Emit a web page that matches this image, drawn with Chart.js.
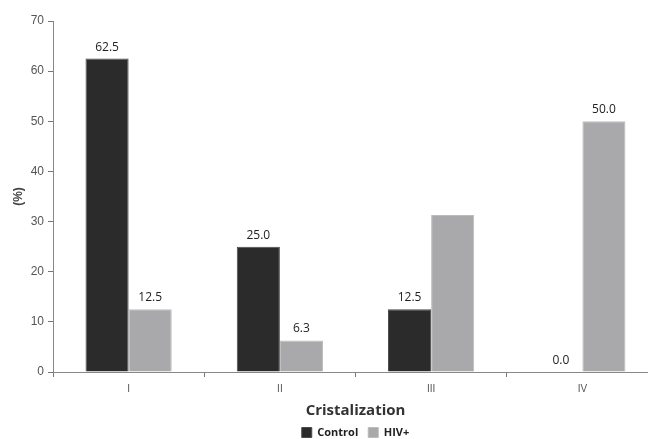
<!DOCTYPE html>
<html>
<head>
<meta charset="utf-8">
<script src="https://cdn.jsdelivr.net/npm/chart.js@4/dist/chart.umd.min.js"></script>
<style>
  html, body { margin: 0; padding: 0; background: #fff; overflow: hidden; }
  #wrap { width: 658px; height: 439px; }
</style>
</head>
<body>
<div id="wrap"><canvas id="crystChart"></canvas></div>
<script>
// data
const categories = ['I', 'II', 'III', 'IV'];
const controlValues = [62.5, 25.0, 12.5, 0.0];
const hivValues = [12.5, 6.3, 31.3, 50.0];
// the figure prints no label on the HIV+ bar of group III
const controlLabels = ['62.5', '25.0', '12.5', '0.0'];
const hivLabels = ['12.5', '6.3', null, '50.0'];
const yTicks = [0, 10, 20, 30, 40, 50, 60, 70];

const darkBar = '#2b2b2b';
const greyBar = '#a9a9ab';

// draws the value above each bar
const barValues = {
    id: 'barValues',
    afterDatasetsDraw(chart) {
        const ctx = chart.ctx;
        const texts = [controlLabels, hivLabels];
        ctx.save();
        ctx.font = '12px "Open Sans"';
        ctx.fillStyle = '#222';
        ctx.textAlign = 'center';
        ctx.textBaseline = 'alphabetic';
        chart.data.datasets.forEach((ds, i) => {
            chart.getDatasetMeta(i).data.forEach((bar, j) => {
                const t = texts[i][j];
                if (t === null) return;
                ctx.fillText(t, bar.x, bar.y - 8);
            });
        });
        ctx.restore();
    }
};

new Chart(document.getElementById('crystChart').getContext('2d'), {
    type: 'bar',
    data: {
        labels: categories,
        datasets: [{
            label: 'Control',
            data: controlValues,
            backgroundColor: darkBar,
            borderColor: '#4a4a4a',
            borderWidth: 1,
            categoryPercentage: 0.57,
            barPercentage: 1.0
        }, {
            label: 'HIV+',
            data: hivValues,
            backgroundColor: greyBar,
            borderColor: '#bcbcbe',
            borderWidth: 1,
            categoryPercentage: 0.57,
            barPercentage: 1.0
        }]
    },
    options: {
        responsive: true,
        maintainAspectRatio: false,
        animation: false,
        layout: { padding: { top: 21, right: 0, left: 0, bottom: -9 } },
        plugins: {
            legend: {
                position: 'bottom',
                fullSize: false,
                labels: {
                    boxWidth: 10,
                    boxHeight: 10,
                    padding: 10,
                    color: '#222',
                    font: { family: '"Open Sans"', size: 11, weight: 'bold' }
                }
            },
            tooltip: { enabled: false }
        },
        scales: {
            x: {
                afterFit: (scale) => { scale.height = 45; },
                grid: {
                    offset: true,
                    drawOnChartArea: false,
                    tickLength: 5,
                    color: '#777'
                },
                border: { color: '#888', width: 1 },
                ticks: {
                    color: '#555',
                    padding: 6,
                    font: { family: '"Liberation Sans"', size: 10 }
                },
                title: {
                    display: true,
                    text: 'Cristalization',
                    color: '#333',
                    padding: { top: 0, bottom: -3 },
                    font: { family: '"Open Sans"', size: 15, weight: 'bold' }
                }
            },
            y: {
                min: 0,
                max: 70,
                afterBuildTicks: (scale) => {
                    scale.ticks = yTicks.map(v => ({ value: v }));
                },
                afterFit: (scale) => { scale.width = 53; },
                grid: {
                    drawOnChartArea: false,
                    tickLength: 5,
                    color: '#777'
                },
                border: { color: '#888', width: 1 },
                ticks: {
                    color: '#555',
                    padding: 4,
                    font: { family: '"Liberation Sans"', size: 12 }
                },
                title: {
                    display: true,
                    text: '(%)',
                    color: '#444',
                    padding: { top: 11, bottom: 0 },
                    font: { family: '"Liberation Sans"', size: 12, weight: 'bold' }
                }
            }
        }
    },
    plugins: [barValues]
});
</script>
</body>
</html>
